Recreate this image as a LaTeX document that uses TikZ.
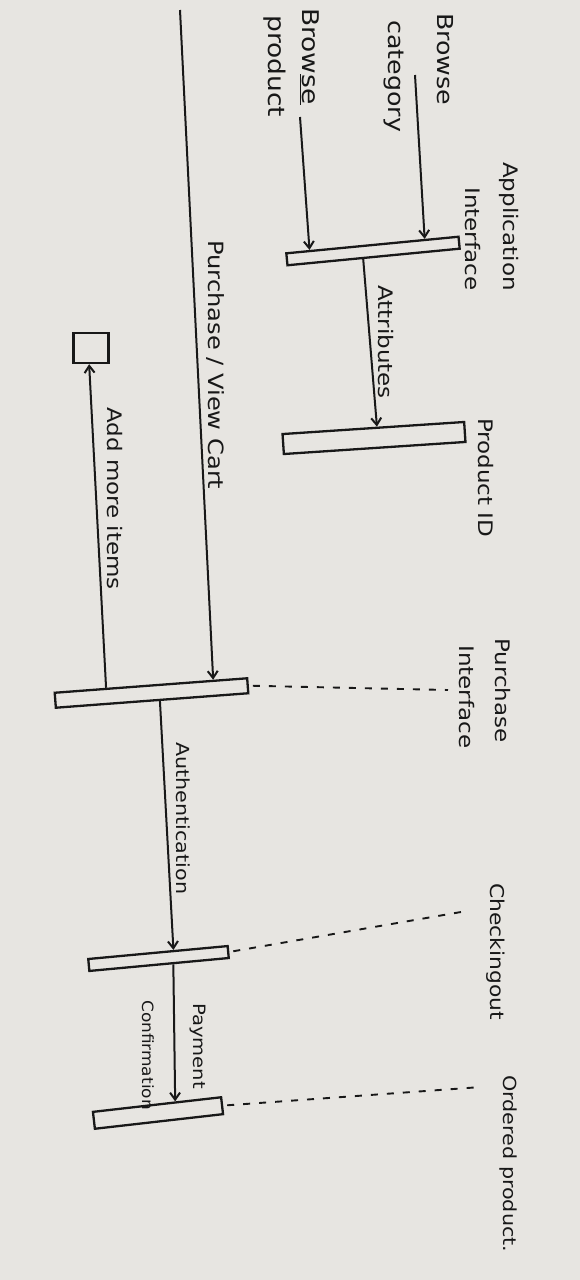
\documentclass[tikz,border=0pt]{standalone}
\usepackage{fontspec}
\setmainfont{DejaVu Sans}
\usetikzlibrary{arrows.meta,calc}
\definecolor{paper}{RGB}{231,229,225}
\definecolor{ink}{RGB}{24,24,24}
\newcommand{\fs}[1]{\fontsize{#1}{#1}\selectfont}
\begin{document}
\begin{tikzpicture}[x=1pt,y=-1pt,
  lbl/.style={rotate=-90, xscale=1.15, anchor=base west, inner sep=0pt, text=ink},
  act/.style={draw=ink, line width=2.3pt, rectangle, inner sep=0pt},
  msg/.style={draw=ink, line width=2pt, -{Straight Barb[length=7pt,width=10pt,line width=2pt]}},
  life/.style={draw=ink, line width=1.9pt, dash pattern=on 7pt off 9pt, shorten <=4pt}]
\fill[paper] (0,0) rectangle (580,1280);
\useasboundingbox (0,0) rectangle (580,1280);

% labels
\node[lbl, font=\fs{22}] (browse1) at (437,13) {Browse};
\node[lbl, font=\fs{22}] (category) at (388,20) {category};
\node[lbl, font=\fs{23}] (browse2) at (302,8) {Brow\underline{se}};
\node[lbl, font=\fs{23}] (product) at (268,15) {product};
\node[lbl, font=\fs{20}] (appl) at (503,162) {Application};
\node[lbl, font=\fs{20}] (intf1) at (465,187) {Interface};
\node[lbl, font=\fs{20}] (attr) at (378,285) {Attributes};
\node[lbl, font=\fs{21}] (pvc) at (208,240) {Purchase / View Cart};
\node[lbl, font=\fs{20}] (pid) at (478,418) {Product ID};
\node[lbl, font=\fs{20}] (amore) at (107,407) {Add more items};
\node[lbl, font=\fs{20}] (purch) at (495,638) {Purchase};
\node[lbl, font=\fs{20}] (intf2) at (459,645) {Interface};
\node[lbl, font=\fs{18}] (auth) at (176,742) {Authentication};
\node[lbl, font=\fs{19}] (chk) at (490,883) {Checkingout};
\node[lbl, font=\fs{17}] (pay) at (193,1003) {Payment};
\node[lbl, font=\fs{15.5}, xscale=0.95] (conf) at (142,1000) {Confirmation};
\node[lbl, font=\fs{18}] (ord) at (503,1075) {Ordered product.};

% activation boxes
\node[act, minimum width=173pt, minimum height=12pt, rotate=5.5] (boxA) at (373,251) {};
\node[act, minimum width=182pt, minimum height=20pt, rotate=3.8] (boxP) at (374,438) {};
\node[act, minimum width=193pt, minimum height=15pt, rotate=4.3] (boxU) at (151.5,693) {};
\node[act, minimum width=140pt, minimum height=12pt, rotate=5.3] (boxC) at (158.5,958.5) {};
\node[act, minimum width=129pt, minimum height=17pt, rotate=6.5] (boxF) at (158,1113) {};
\node[act, minimum width=35pt, minimum height=30pt] (boxS) at (91,348) {};

% free ends
\coordinate (c1) at (415,75);
\coordinate (c2) at (300,117);
\coordinate (c3) at (180,10);
\coordinate (d1) at (448,690);
\coordinate (d2) at (461,912);
\coordinate (d3) at (481,1087);

% messages
\draw[msg] (c1) -- ($(boxA.north west)!0.8!(boxA.north east)$);
\draw[msg] (c2) -- ($(boxA.north west)!0.14!(boxA.north east)$);
\draw[msg] ($(boxA.south west)!0.44!(boxA.south east)$) -- ($(boxP.north west)!0.52!(boxP.north east)$);
\draw[msg] (c3) -- ($(boxU.north west)!0.82!(boxU.north east)$);
\draw[msg] ($(boxU.north west)!0.27!(boxU.north east)$) -- ($(boxS.south west)!0.45!(boxS.south east)$);
\draw[msg] ($(boxU.south west)!0.54!(boxU.south east)$) -- ($(boxC.north west)!0.61!(boxC.north east)$);
\draw[msg] ($(boxC.south west)!0.6!(boxC.south east)$) -- ($(boxF.north west)!0.64!(boxF.north east)$);

% lifelines
\draw[life] (boxU.east) -- (d1);
\draw[life] (boxC.east) -- (d2);
\draw[life] (boxF.east) -- (d3);
\end{tikzpicture}
\end{document}
